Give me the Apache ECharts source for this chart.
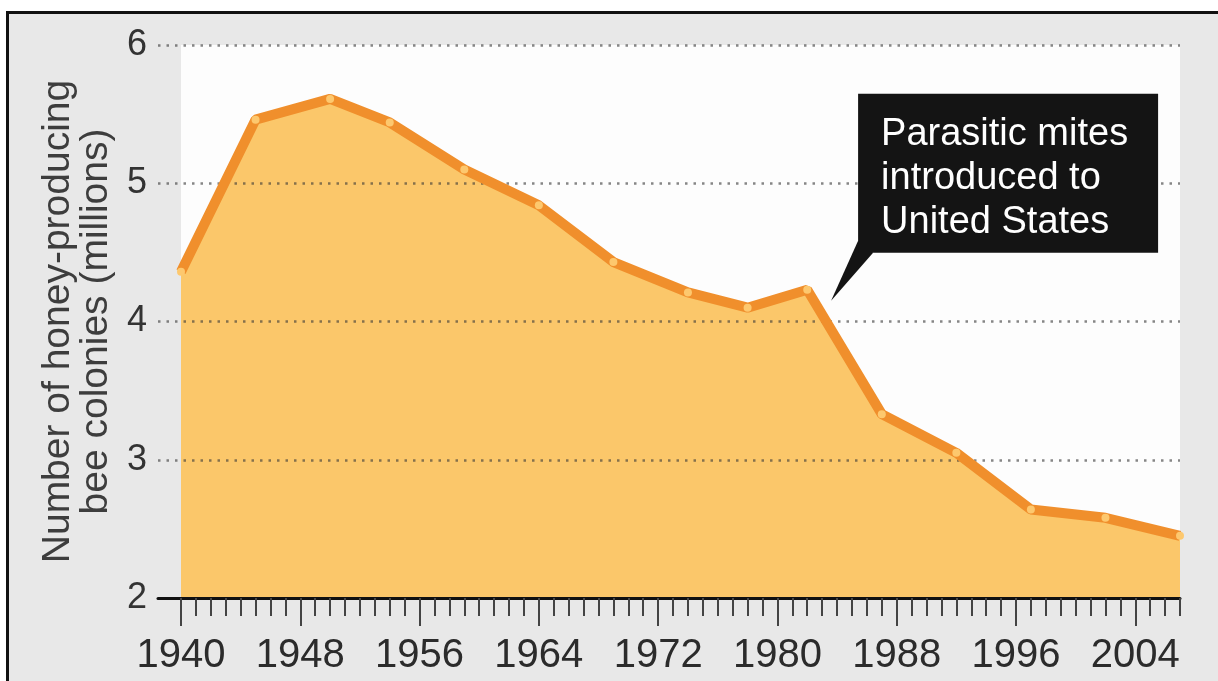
<!DOCTYPE html>
<html>
<head>
<meta charset="utf-8">
<script src="https://cdn.jsdelivr.net/npm/echarts@6/dist/echarts.min.js"></script>
<style>
  html, body { margin: 0; padding: 0; width: 1218px; height: 681px; overflow: hidden; background: #ffffff; }
  #frame { position: absolute; left: 6px; top: 11px; width: 1300px; height: 800px; border: 3px solid #111; background: #e8e8e8; }
  #chart { position: absolute; left: 0; top: 0; width: 1218px; height: 681px; }
</style>
</head>
<body>
<div id="frame"></div>
<div id="chart"></div>
<script>
// ---- data ----
const years = [1940, 1945, 1950, 1954, 1959, 1964, 1969, 1974, 1978, 1982, 1987, 1992, 1997, 2002, 2007];
const colonies = [4.36, 5.46, 5.61, 5.44, 5.10, 4.84, 4.43, 4.21, 4.10, 4.23, 3.33, 3.05, 2.64, 2.58, 2.45];
const firstYear = 1940;
const lastYear = 2007;
const labelStep = 8;
const yTicks = [2, 3, 4, 5, 6];
const yAxisTitle = 'Number of honey-producing\nbee colonies (millions)';
const noteText = 'Parasitic mites\nintroduced to\nUnited States';
const notePoint = [1983.6, 4.15];

// tick categories, one per year
const tickYears = [];
for (let y = firstYear; y <= lastYear; y++) tickYears.push(String(y));
const points = years.map((y, i) => [y, colonies[i]]);

const FONT = "'Liberation Sans', Arial, sans-serif";
const chart = echarts.init(document.getElementById('chart'), null, { renderer: 'canvas' });

const option = {
  animation: false,
  backgroundColor: 'transparent',
  textStyle: { fontFamily: FONT },
  grid: [
    { left: 158, right: 38, top: 45, bottom: 83 },
    { left: 181, right: 38, top: 45, bottom: 83, show: true, backgroundColor: '#fdfdfd', borderWidth: 0 }
  ],
  xAxis: [
    { gridIndex: 0, type: 'value', min: 0, max: 1, position: 'bottom',
      axisLine: { show: true, lineStyle: { color: '#111', width: 3 } },
      axisTick: { show: false }, axisLabel: { show: false }, splitLine: { show: false }, z: 6 },
    { gridIndex: 1, type: 'value', min: firstYear, max: lastYear, position: 'bottom', show: false },
    { gridIndex: 1, type: 'category', data: tickYears, boundaryGap: false, position: 'bottom',
      axisLine: { show: false },
      axisTick: { show: true, interval: 0, length: 18, lineStyle: { color: '#444', width: 2 } },
      axisLabel: { show: false }, splitLine: { show: false }, z: 6 },
    { gridIndex: 1, type: 'category', data: tickYears, boundaryGap: false, position: 'bottom',
      axisLine: { show: false },
      axisTick: { show: true, interval: (i) => (i % labelStep === 0), length: 28, lineStyle: { color: '#444', width: 2 } },
      axisLabel: { show: true, interval: (i) => (i % labelStep === 0), fontSize: 40, margin: 38, color: '#2b2b2b', fontFamily: FONT },
      splitLine: { show: false }, z: 6 }
  ],
  yAxis: [
    { gridIndex: 0, type: 'value', min: yTicks[0], max: yTicks[yTicks.length - 1], interval: 1,
      axisLine: { show: false }, axisTick: { show: false },
      axisLabel: { fontSize: 36, margin: 11, color: '#333', fontFamily: FONT },
      splitLine: { show: true, lineStyle: { type: [2.5, 6], width: 2.5, color: 'rgba(55,55,55,0.6)' } },
      name: yAxisTitle, nameLocation: 'middle', nameRotate: 90, nameGap: 43,
      nameTextStyle: { fontSize: 39, lineHeight: 38, color: '#3d3d3d', fontFamily: FONT },
      z: 3 },
    { gridIndex: 1, type: 'value', min: yTicks[0], max: yTicks[yTicks.length - 1], show: false }
  ],
  series: [
    { type: 'line', xAxisIndex: 1, yAxisIndex: 1, data: points, z: 2, silent: true,
      showSymbol: false, lineStyle: { width: 0 },
      areaStyle: { color: '#fbc76a', opacity: 1, origin: 'start' } },
    { type: 'line', xAxisIndex: 1, yAxisIndex: 1, data: points, z: 4,
      lineStyle: { width: 10, color: '#f08f2c' },
      symbol: 'circle', symbolSize: 8, itemStyle: { color: '#fdc86e', borderWidth: 0 } }
  ]
};
chart.setOption(option);

// annotation callout anchored to data coordinates
const tip = chart.convertToPixel({ xAxisIndex: 1, yAxisIndex: 1 }, notePoint);
const tx = tip[0], ty = tip[1];
chart.setOption({
  graphic: [
    { type: 'polygon', z: 10, shape: { points: [[tx + 27, ty - 60], [tx + 42, ty - 48], [tx, ty]] }, style: { fill: '#141414' } },
    { type: 'rect', z: 10, shape: { x: tx + 27, y: ty - 207, width: 300, height: 159 }, style: { fill: '#141414' } },
    { type: 'text', z: 11, x: tx + 50, y: ty - 188, style: { text: noteText, fill: '#ffffff', font: "38px " + FONT, lineHeight: 44 } }
  ]
});
</script>
</body>
</html>
